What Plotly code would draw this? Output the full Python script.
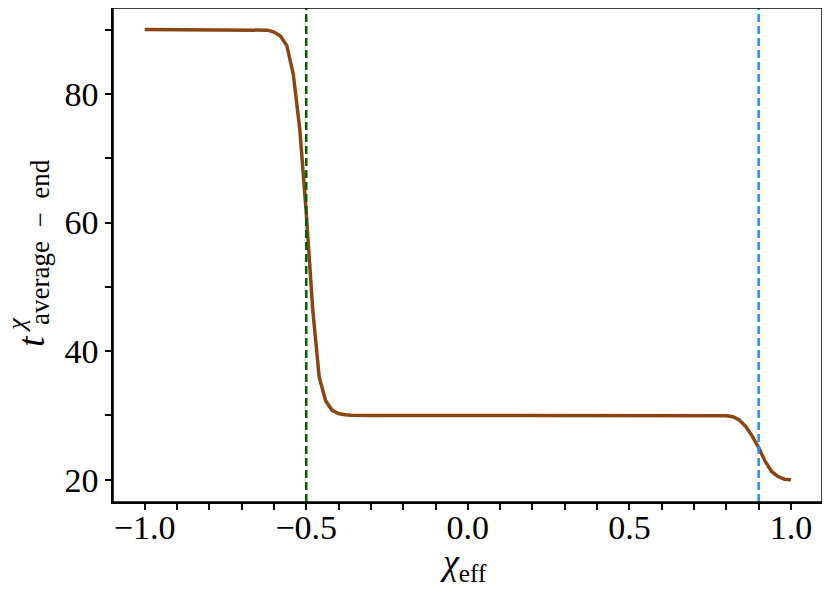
import plotly.graph_objects as go

# chi_eff grid and t^chi_(average-end)
chi_eff = [-1.00, -0.90, -0.80, -0.70, -0.66, -0.64, -0.62, -0.60, -0.58, -0.56,
           -0.54, -0.52, -0.50, -0.48, -0.46, -0.44, -0.42, -0.40, -0.38, -0.36,
           -0.34, -0.30, -0.20, -0.10, 0.00, 0.10, 0.20, 0.30, 0.40, 0.50,
           0.60, 0.70, 0.76, 0.78, 0.80, 0.82, 0.84, 0.86, 0.88, 0.90,
           0.92, 0.94, 0.96, 0.98, 1.00]
t_avg_end = [90.0, 90.0, 90.0, 90.0, 90.0, 90.0, 89.9, 89.6, 89.0, 87.5,
             83.0, 74.5, 61.5, 46.5, 36.0, 32.3, 30.8, 30.3, 30.1, 30.05,
             30.0, 30.0, 30.0, 30.0, 30.0, 30.0, 30.0, 30.0, 30.0, 30.0,
             30.0, 30.0, 30.0, 30.0, 29.95, 29.8, 29.3, 28.3, 26.8, 25.0,
             22.9, 21.3, 20.5, 20.1, 20.0]

# vertical markers
chi_low = -0.5
chi_high = 0.9

FONT = "Liberation Serif"

fig = go.Figure()
fig.add_trace(go.Scatter(x=chi_eff, y=t_avg_end, mode="lines",
                         line=dict(color="#8B4513", width=3.5), showlegend=False))

fig.add_vline(x=chi_low, line=dict(color="#006400", width=2.5, dash="8px,4px"))
fig.add_vline(x=chi_high, line=dict(color="#1E90FF", width=2.5, dash="8px,4px"))

# full frame around the plot area
fig.add_shape(type="rect", xref="paper", yref="paper", x0=0, x1=1, y0=0, y1=1,
              line=dict(color="black", width=1.5), layer="above")

axis_common = dict(showline=True, linecolor="black", linewidth=1.5, mirror=True,
                   ticks="outside", ticklen=6, tickwidth=1.5, tickcolor="black",
                   showgrid=False, zeroline=False, automargin=False,
                   tickfont=dict(family=FONT, size=34, color="black"))

fig.update_xaxes(range=[-1.098, 1.096], tick0=-1.0, dtick=0.5, tickformat=".1f",
                 ticklabelstandoff=-12,
                 minor=dict(dtick=0.1, ticks="outside", ticklen=6, tickwidth=1.5, tickcolor="black"),
                 **axis_common)
fig.update_yaxes(range=[16.55, 93.35], tick0=20, dtick=20,
                 minor=dict(dtick=10, ticks="outside", ticklen=6, tickwidth=1.5, tickcolor="black"),
                 **axis_common)

# x label
fig.add_annotation(text="<i>χ</i><sub>eff</sub>", xref="paper", yref="paper", x=0.495, y=-0.126,
                   showarrow=False, xanchor="center", yanchor="middle",
                   font=dict(family=FONT, size=36, color="black"))

# y label: t with stacked superscript chi and subscript "average - end"
fig.add_annotation(text="<i>t</i>", xref="paper", yref="paper", x=-0.1157, y=0.326,
                   textangle=-90, showarrow=False, xanchor="center", yanchor="middle",
                   font=dict(family=FONT, size=38, color="black"))
fig.add_annotation(text="<i>χ</i>", xref="paper", yref="paper", x=-0.136, y=0.358,
                   textangle=-90, showarrow=False, xanchor="center", yanchor="middle",
                   font=dict(family=FONT, size=26, color="black"))
fig.add_annotation(text="average\u2002−\u2002end", xref="paper", yref="paper", x=-0.104, y=0.527,
                   textangle=-90, showarrow=False, xanchor="center", yanchor="middle",
                   font=dict(family=FONT, size=27, color="black"))

# page body adds an 8px offset, so margins are trimmed to keep the frame in place
fig.update_layout(width=830, height=596, margin=dict(l=105, r=16, t=0, b=102),
                  plot_bgcolor="white", paper_bgcolor="white",
                  font=dict(family=FONT, color="black"))

fig.write_html("out.html")
